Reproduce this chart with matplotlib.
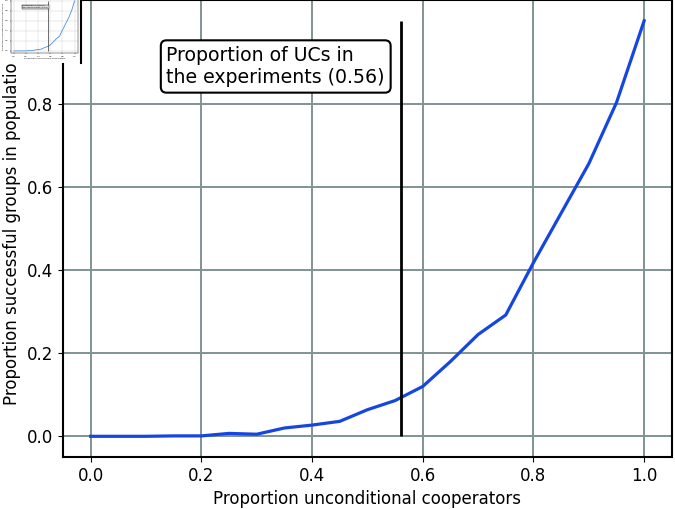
import matplotlib
matplotlib.use("Agg")
import matplotlib.pyplot as plt
from matplotlib.patches import Rectangle
from matplotlib.lines import Line2D

# proportion of unconditional cooperators in the population
prop_uc = [0.0, 0.05, 0.1, 0.15, 0.2, 0.25, 0.3, 0.35, 0.4, 0.45, 0.5,
           0.55, 0.6, 0.65, 0.7, 0.75, 0.8, 0.85, 0.9, 0.95, 1.0]
# proportion of successful groups
prop_success = [0.0, 0.0, 0.0, 0.001, 0.001, 0.007, 0.005, 0.02, 0.027, 0.036, 0.064,
                0.086, 0.12, 0.18, 0.245, 0.292, 0.418, 0.537, 0.656, 0.803, 1.0]
uc_experiments = 0.56
box_text = "Proportion of UCs in\nthe experiments (0.56)"

grid_col = "#7f9494"
line_col = "#1546e0"

fig = plt.figure(figsize=(6.75, 5.09), dpi=100)
ax = fig.add_axes([0.0933, 0.102, 0.902, 0.898])

ax.plot(prop_uc, prop_success, color=line_col, lw=2.3, zorder=3)
ax.vlines(uc_experiments, 0, 1, color="black", lw=2, zorder=3)
ax.text(0.137, 0.89, box_text, fontsize=13.6, va="center", ha="left",
        bbox=dict(boxstyle="round,pad=0.3", fc="white", ec="black", lw=1.5), zorder=4)
ax.grid(True, color=grid_col, lw=1.4)
ax.set_axisbelow(True)
ax.set_xlim(-0.05, 1.05)
ax.set_ylim(-0.05, 1.05)
ax.set_xticks([0.0, 0.2, 0.4, 0.6, 0.8, 1.0])
ax.set_yticks([0.0, 0.2, 0.4, 0.6, 0.8])
ax.tick_params(labelsize=12)
for s in ax.spines.values():
    s.set_linewidth(1.5)
ax.set_xlabel("Proportion unconditional cooperators", fontsize=12)
ax.set_ylabel("Proportion successful groups in population", fontsize=12)

# small thumbnail of the same chart in the corner
fig.patches.append(Rectangle((0, 0.876), 0.12, 0.124, transform=fig.transFigure,
                             fc="white", ec="none", zorder=5))
fig.lines.append(Line2D([0.12, 0.12], [0.876, 1.0], transform=fig.transFigure,
                        color="black", lw=1.5, zorder=6))
ins = fig.add_axes([0.016, 0.895, 0.099, 0.108], zorder=7)
ins.plot(prop_uc, prop_success, color="#4a90d9", lw=0.6)
ins.vlines(uc_experiments, 0, 1, color="#333333", lw=0.5)
ins.text(0.14, 0.89, box_text, fontsize=1.6, va="center",
         bbox=dict(boxstyle="square,pad=0.3", fc="#dddddd", ec="black", lw=0.3))
ins.grid(True, color="#cccccc", lw=0.3)
ins.set_xlim(-0.05, 1.05)
ins.set_ylim(-0.05, 1.05)
ins.set_xticks([0.0, 0.2, 0.4, 0.6, 0.8, 1.0])
ins.tick_params(labelsize=1.6, length=1, width=0.3, pad=0.5)
for s in ins.spines.values():
    s.set_linewidth(0.3)
ins.set_xlabel("Proportion unconditional cooperators", fontsize=1.6, labelpad=1.2)
ins.set_ylabel("Proportion successful groups in population", fontsize=1.6, labelpad=1.2)

fig.savefig("out.png", dpi=100)
